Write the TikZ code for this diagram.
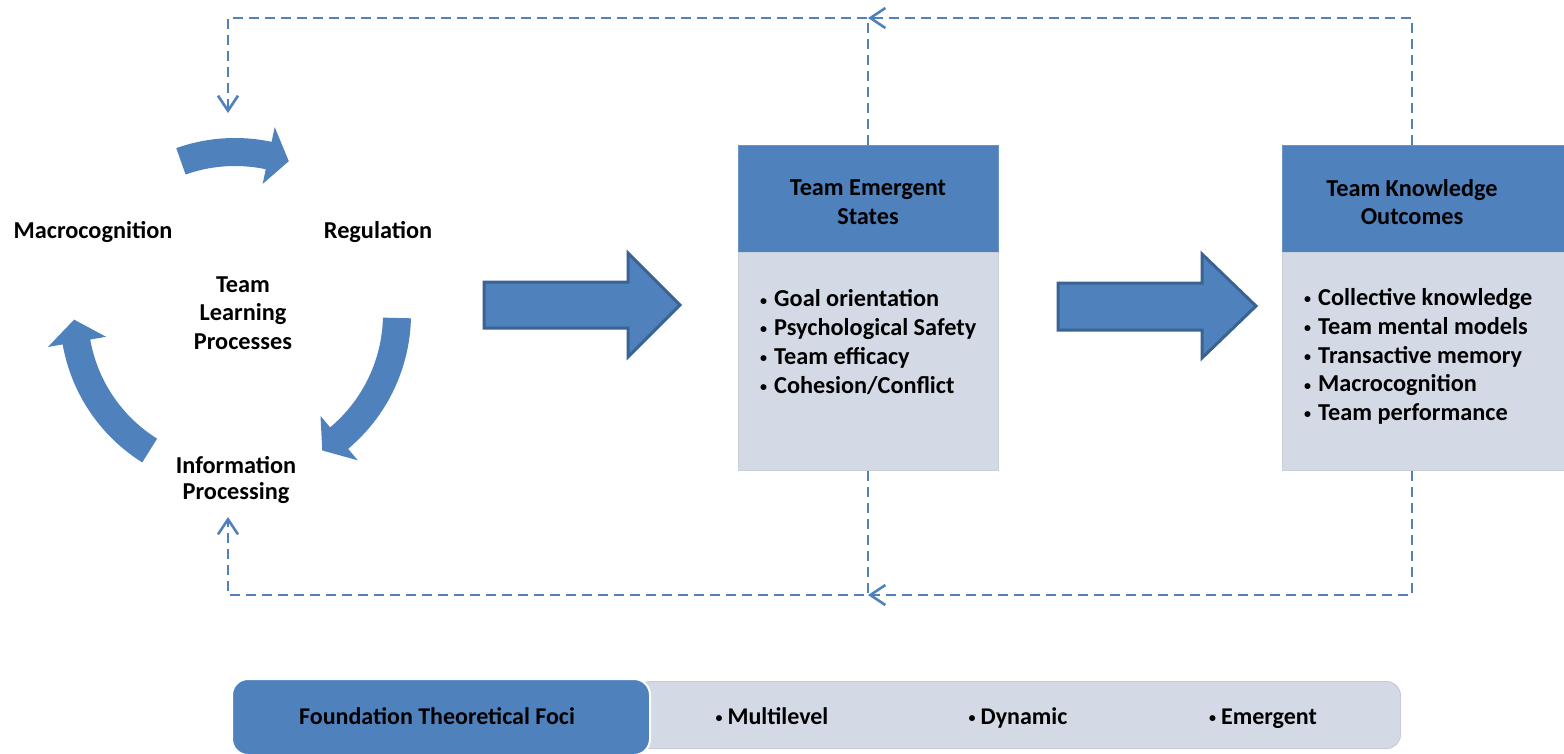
\documentclass[tikz,border=0pt]{standalone}
\usepackage{fontspec}
\setmainfont{Carlito}
\usetikzlibrary{arrows.meta}
\definecolor{hdr}{HTML}{4F81BD}
\definecolor{bodyc}{HTML}{D3DAE6}
\definecolor{arrbd}{HTML}{3A6394}
\newcommand\mybul{\makebox[14pt][l]{\raisebox{1.8pt}{\fontsize{14}{14}\selectfont •}}}
\newcommand\mybulb{\makebox[12pt][l]{\raisebox{1.8pt}{\fontsize{14}{14}\selectfont •}}}
\begin{document}
\begin{tikzpicture}[x=1pt,y=-1pt,
  font=\fontsize{24.3}{28.7}\selectfont\bfseries,
  hdrbox/.style={draw=hdr!85!white, fill=hdr, line width=1pt, inner sep=0pt, anchor=north west},
  bodybox/.style={draw=bodyc!88!gray, fill=bodyc, line width=1pt, inner sep=0pt, anchor=north west},
  lbl/.style={align=center, text=black, inner sep=0pt},
  lst/.style={align=left, text=black, inner sep=0pt, anchor=west},
  fb/.style={draw=hdr, line width=2.6pt, dash pattern=on 10pt off 6pt, -{Straight Barb[length=15pt,width=20pt]}},
  cyc/.style={fill=hdr, draw=none},
  blockarrow/.style={fill=hdr, draw=arrbd, line width=3pt, line join=miter},
  barfont/.style={font=\fontsize{24}{28}\selectfont\bfseries, inner sep=0pt, anchor=base}
]
\useasboundingbox (0,0) rectangle (1564,753);

% ---------- cycle arrows ----------
\begin{scope}[shift={(235,314)}]
  \path[cyc] plot[domain=109.5:78, samples=40] (\x:176pt) -- (78:191pt) -- (70.6:162pt) -- (78:133pt)
     -- plot[domain=78:109.5, samples=40] (\x:148pt) -- cycle;
  \path[cyc] plot[domain=-1.4:-50, samples=40] (\x:176pt) -- (-50:191pt) -- (-57.4:162pt) -- (-50:133pt)
     -- plot[domain=-50:-1.4, samples=40] (\x:148pt) -- cycle;
  \path[cyc] plot[domain=238:190, samples=40] (\x:175pt) -- (190:190pt) -- (182:161pt) -- (190:131pt)
     -- plot[domain=190:238, samples=40] (\x:147pt) -- cycle;
\end{scope}

\node[inner sep=0pt] (mac) at (93,232) {Macrocognition};
\node[inner sep=0pt] (reg) at (378,232) {Regulation};
\node[lbl] (tlp) at (243,313) {Team\\Learning\\Processes};
\node[lbl, font=\fontsize{24.3}{26.5}\selectfont\bfseries] (ip) at (236,480) {Information\\Processing};

% ---------- boxes ----------
\node[hdrbox, minimum width=260pt, minimum height=107pt] (esh) at (738,145) {};
\node[bodybox, minimum width=260pt, minimum height=218pt] (esb) at (738,252) {};
\node[lbl] (est) at (868,202) {Team Emergent\\States};
\node[lst] (esl) at (760,342) {\mybul Goal orientation\\\mybul Psychological Safety\\\mybul Team efficacy\\\mybul Cohesion/Conflict};

\node[hdrbox, minimum width=292pt, minimum height=107pt] (kh) at (1282,145) {};
\node[bodybox, minimum width=292pt, minimum height=218pt] (kb) at (1282,252) {};
\node[lbl] (kt) at (1412,202) {Team Knowledge\\Outcomes};
\node[lst] (kl) at (1304,356.5) {\mybul Collective knowledge\\\mybul Team mental models\\\mybul Transactive memory\\\mybul Macrocognition\\\mybul Team performance};

% ---------- block arrows ----------
\draw[blockarrow] (484,282) -- (628,282) -- (628,253) -- (680,305) -- (628,357) -- (628,328) -- (484,328) -- cycle;
\draw[blockarrow] (1058,283) -- (1202,283) -- (1202,254) -- (1256,306) -- (1202,358) -- (1202,330) -- (1058,330) -- cycle;

% ---------- feedback loops ----------
\coordinate (tl) at (228,18);
\coordinate (tin) at (228,113);
\coordinate (tm) at (868,18);
\coordinate (bl) at (228,595);
\coordinate (bin) at (228,517);
\coordinate (bm) at (868,595);

\draw[fb] (est |- esh.north) |- (tl) -- (tin);
\draw[fb] (kt |- kh.north) |- (tm);
\draw[fb] (est |- esb.south) |- (bl) -- (bin);
\draw[fb] (kt |- kb.south) |- (bm);

% ---------- foundation bar ----------
\node[fill=bodyc, draw=bodyc!85!gray, line width=1pt, rounded corners=14pt, anchor=north west,
      minimum width=764pt, minimum height=67pt, inner sep=0pt] (fbar) at (636,681) {};
\node[fill=hdr, draw=white, line width=2pt, rounded corners=16pt, anchor=north west,
      minimum width=418pt, minimum height=76pt, inner sep=0pt] (ftitle) at (231,678) {};
\node[barfont] (ftt) at (437,724) {Foundation Theoretical Foci};
\node[barfont] (f1) at (772,724) {\mybulb Multilevel};
\node[barfont] (f2) at (1018,724) {\mybulb Dynamic};
\node[barfont] (f3) at (1263,724) {\mybulb Emergent};
\end{tikzpicture}
\end{document}
